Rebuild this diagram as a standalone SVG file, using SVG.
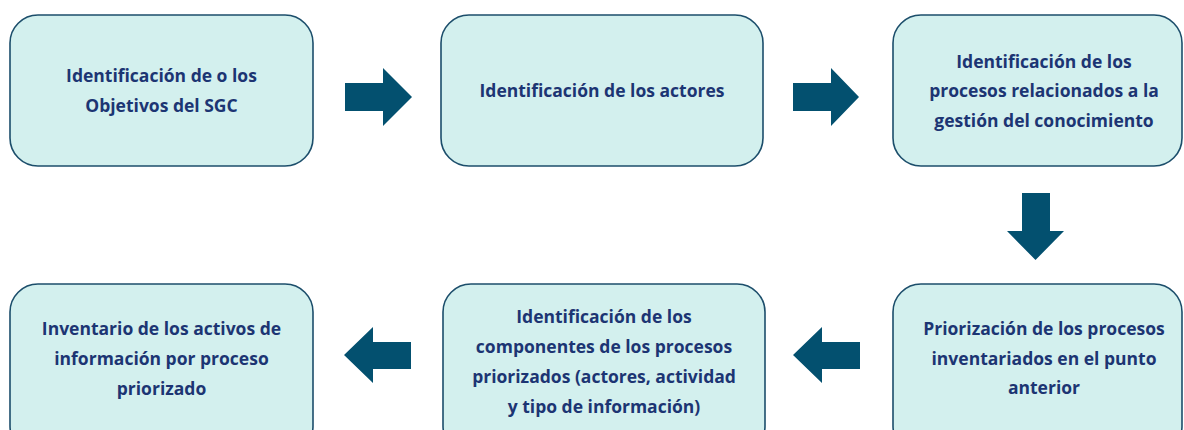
<svg xmlns="http://www.w3.org/2000/svg" width="1184" height="430" viewBox="0 0 1184 430">
<style>
.box{fill:#d3f0ee;stroke:#1c4e6b;stroke-width:1.6}
.t{font-family:"Open Sans","Noto Sans","Liberation Sans",sans-serif;font-weight:700;font-size:17.5px;fill:#1c3573;text-anchor:middle}
.arr{fill:#03506f}
</style>
<rect width="1184" height="430" fill="#ffffff"/>
<g id="n1"><rect class="box" x="10" y="15" width="303" height="151" rx="28"/>
<text class="t" x="161.5" y="82">Identificación de o los</text>
<text class="t" x="161.5" y="112">Objetivos del SGC</text></g>
<g id="n2"><rect class="box" x="441" y="15" width="322" height="151" rx="28"/>
<text class="t" x="602" y="97">Identificación de los actores</text></g>
<g id="n3"><rect class="box" x="893" y="15" width="289" height="151" rx="28"/>
<text class="t" x="1044" y="68">Identificación de los</text>
<text class="t" x="1044" y="97">procesos relacionados a la</text>
<text class="t" x="1044" y="127">gestión del conocimiento</text></g>
<g id="n4"><rect class="box" x="893" y="284" width="289" height="170" rx="28"/>
<text class="t" x="1044" y="335">Priorización de los procesos</text>
<text class="t" x="1044" y="365">inventariados en el punto</text>
<text class="t" x="1044" y="394">anterior</text></g>
<g id="n5"><rect class="box" x="443" y="284" width="322" height="170" rx="28"/>
<text class="t" x="604" y="323">Identificación de los</text>
<text class="t" x="604" y="353">componentes de los procesos</text>
<text class="t" x="604" y="383">priorizados (actores, actividad</text>
<text class="t" x="604" y="413">y tipo de información)</text></g>
<g id="n6"><rect class="box" x="10" y="284" width="303" height="170" rx="28"/>
<text class="t" x="161.5" y="335">Inventario de los activos de</text>
<text class="t" x="161.5" y="365">información por proceso</text>
<text class="t" x="161.5" y="395">priorizado</text></g>
<g id="connectors">
<polygon class="arr" points="345,83 383,83 383,68 412,97 383,126 383,111 345,111"/>
<polygon class="arr" points="793,83 831,83 831,68 859,97 831,126 831,111 793,111"/>
<polygon class="arr" points="1022,193 1050,193 1050,231 1064,231 1035.5,260 1007,231 1022,231"/>
<polygon class="arr" points="860,342 822,342 822,327 793,355 822,383 822,369 860,369"/>
<polygon class="arr" points="411,342 373,342 373,327 344,355 373,383 373,369 411,369"/>
</g>
</svg>
